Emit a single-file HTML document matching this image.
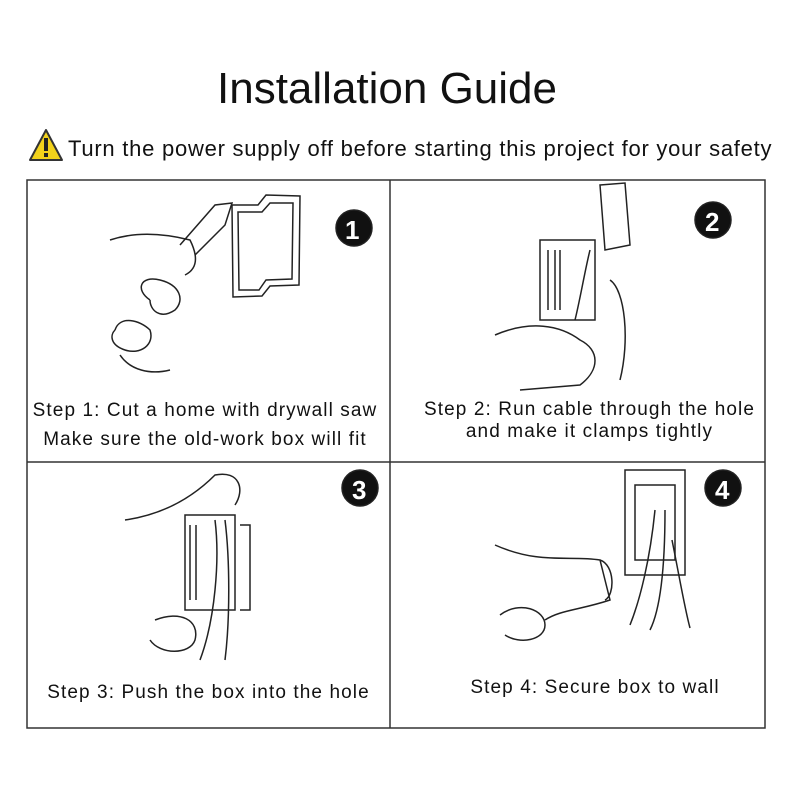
<!DOCTYPE html>
<html><head><style>
body{margin:0;width:800px;height:800px;background:#fff;font-family:"Liberation Sans",sans-serif;position:relative;overflow:hidden}
.t{position:absolute;white-space:nowrap;color:#111}
.s{font-size:19px;letter-spacing:1.1px}
</style></head><body>
<div class="t" style="left:0;width:774px;text-align:center;top:64px;font-size:44px;">Installation Guide</div>
<svg style="position:absolute;left:28px;top:128px" width="40" height="36"><polygon points="18,2 34,32 2,32" fill="#f2d21b" stroke="#333" stroke-width="2" stroke-linejoin="round"/><rect x="16" y="10" width="4" height="13" fill="#222"/><rect x="16" y="25" width="4" height="4" fill="#222"/></svg>
<div class="t" style="left:68px;top:136px;font-size:22px;letter-spacing:0.75px;">Turn the power supply off before starting this project for your safety</div>
<svg style="position:absolute;left:0;top:0" width="800" height="800" fill="none" stroke="#222" stroke-width="1.5">
<rect x="27" y="180" width="738" height="548" stroke="#333"/>
<line x1="390" y1="180" x2="390" y2="728" stroke="#333"/>
<line x1="27" y1="462" x2="765" y2="462" stroke="#333"/>
<path d="M232 205 L258 205 L266 195 L300 196 L299 285 L270 286 L262 296 L233 297 Z"/>
<path d="M238 212 L262 212 L270 203 L293 203 L292 279 L266 280 L259 290 L239 290 Z"/>
<path d="M180 245 L215 205 L232 203 L225 225 L195 255"/>
<path d="M110 240 C140 230 170 235 190 240 C200 260 195 270 185 275 M150 300 C135 290 140 275 160 280 C180 285 185 300 175 310 C160 320 150 310 150 300 M115 330 C120 315 140 320 150 330 C155 345 140 355 125 350 C110 345 110 335 115 330 M120 355 C130 370 150 375 170 370"/>
<circle cx="354" cy="228" r="18" fill="#111"/>
<rect x="540" y="240" width="55" height="80"/>
<path d="M548 250 L548 310 M555 250 L555 310 M560 250 L560 310"/>
<path d="M600 185 L625 183 L630 245 L605 250 Z M590 250 C585 270 580 300 575 320"/>
<path d="M495 335 C530 320 560 325 580 340 C600 350 600 370 580 385 L520 390 M610 280 C625 290 630 340 620 380"/>
<circle cx="713" cy="220" r="18" fill="#111"/>
<rect x="185" y="515" width="50" height="95"/>
<path d="M190 525 L190 600 M196 525 L196 600 M240 525 L250 525 L250 610 L240 610"/>
<path d="M125 520 C160 515 190 500 215 475 C240 470 245 490 235 505 M215 520 C220 560 215 620 200 660 M225 520 C230 560 230 620 225 660 M155 620 C180 610 200 620 195 640 C190 655 160 655 150 640"/>
<circle cx="360" cy="488" r="18" fill="#111"/>
<rect x="625" y="470" width="60" height="105"/>
<rect x="635" y="485" width="40" height="75"/>
<path d="M655 510 C650 560 640 600 630 625 M665 510 C665 570 660 610 650 630 M672 540 C680 580 685 610 690 628"/>
<path d="M495 545 C540 565 570 555 600 560 L610 600 C580 610 560 610 545 620 M600 560 C615 565 615 595 605 600 M500 615 C520 600 545 610 545 625 C545 640 520 645 505 635"/>
<circle cx="723" cy="488" r="18" fill="#111"/>
</svg>
<div class="t" style="left:345px;top:215px;color:#fff;font-size:26px;font-weight:bold;">1</div>
<div class="t" style="left:705px;top:207px;color:#fff;font-size:26px;font-weight:bold;">2</div>
<div class="t" style="left:352px;top:475px;color:#fff;font-size:26px;font-weight:bold;">3</div>
<div class="t" style="left:715px;top:475px;color:#fff;font-size:26px;font-weight:bold;">4</div>
<div class="t s" style="left:27px;width:356px;text-align:center;top:396px;line-height:29px;">Step 1: Cut a home with drywall saw<br>Make sure the old-work box will fit</div>
<div class="t s" style="left:402px;width:375px;text-align:center;top:399px;line-height:22px;">Step 2: Run cable through the hole<br>and make it clamps tightly</div>
<div class="t s" style="left:27px;width:363px;text-align:center;top:682px;">Step 3: Push the box into the hole</div>
<div class="t s" style="left:390px;width:410px;text-align:center;top:677px;">Step 4: Secure box to wall</div>
</body></html>
